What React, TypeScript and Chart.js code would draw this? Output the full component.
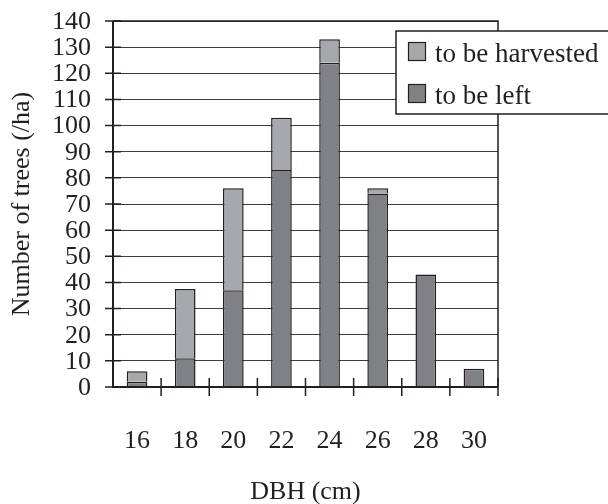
import React, { useEffect, useRef } from "react";
import { Chart, registerables } from "chart.js";

Chart.register(...registerables);

const categories = ["16", "18", "20", "22", "24", "26", "28", "30"];
const toBeLeft = [2, 11, 37, 83, 124, 74, 43, 7];
const toBeHarvested = [4, 26.5, 39, 20, 9, 2, null, null];
const yMax = 140;
const yStep = 10;
const legendLabels = ["to be harvested", "to be left"];

const INK = "#231f20";
const LIGHT = "#a7a8ab";
const DARK = "#808184";
const FONT = "'Liberation Serif', 'Times New Roman', serif";

const framePlugin = {
  id: "frame",
  afterDraw(chart: any) {
    const { ctx, chartArea, scales } = chart;
    const x = scales.x;
    const y = scales.y;
    ctx.save();
    ctx.strokeStyle = INK;
    // frame top & right
    ctx.lineWidth = 1.5;
    ctx.beginPath();
    ctx.moveTo(chartArea.left, chartArea.top);
    ctx.lineTo(chartArea.right, chartArea.top);
    ctx.lineTo(chartArea.right, chartArea.bottom);
    ctx.stroke();
    // axes
    ctx.lineWidth = 2;
    ctx.beginPath();
    ctx.moveTo(chartArea.left, chartArea.top);
    ctx.lineTo(chartArea.left, chartArea.bottom);
    ctx.lineTo(chartArea.right, chartArea.bottom);
    ctx.stroke();
    // y ticks crossing axis
    ctx.lineWidth = 1.5;
    ctx.beginPath();
    for (let v = 0; v <= yMax; v += yStep) {
      const py = y.getPixelForValue(v);
      ctx.moveTo(chartArea.left - 8, py);
      ctx.lineTo(chartArea.left + 8, py);
    }
    // x ticks at category boundaries
    for (let i = 1; i <= categories.length; i++) {
      const px = x.getPixelForValue(i - 0.5);
      ctx.moveTo(px, chartArea.bottom - 9);
      ctx.lineTo(px, chartArea.bottom + 9);
    }
    ctx.stroke();

    // legend box
    const bx = 396, by = 31, bw = 230, bh = 83;
    ctx.fillStyle = "#ffffff";
    ctx.fillRect(bx, by, bw, bh);
    ctx.lineWidth = 1.5;
    ctx.strokeRect(bx, by, bw, bh);
    const fills = [LIGHT, DARK];
    ctx.font = `27px ${FONT}`;
    ctx.textBaseline = "alphabetic";
    ctx.textAlign = "left";
    legendLabels.forEach((label, i) => {
      const sy = 42.5 + i * 42;
      ctx.fillStyle = fills[i];
      ctx.fillRect(408.5, sy, 17, 18);
      ctx.lineWidth = 1.2;
      ctx.strokeRect(408.5, sy, 17, 18);
      ctx.fillStyle = INK;
      ctx.fillText(label, 435, 62 + i * 42);
    });
    ctx.restore();
  },
};

export default function App() {
  const ref = useRef<HTMLCanvasElement | null>(null);

  useEffect(() => {
    if (!ref.current) return;
    const chart = new Chart(ref.current, {
      type: "bar",
      data: {
        labels: categories,
        datasets: [
          {
            label: legendLabels[1],
            data: toBeLeft,
            backgroundColor: DARK,
            borderColor: INK,
            borderWidth: 1.5,
            barPercentage: 0.43,
            categoryPercentage: 1,
          },
          {
            label: legendLabels[0],
            data: toBeHarvested as any,
            backgroundColor: LIGHT,
            borderColor: INK,
            borderWidth: 1.5,
            barPercentage: 0.43,
            categoryPercentage: 1,
          },
        ],
      },
      options: {
        animation: false,
        responsive: false,
        maintainAspectRatio: false,
        layout: { padding: { left: 0, top: 21, right: 110, bottom: 0 } },
        plugins: {
          legend: { display: false },
          tooltip: { enabled: false },
        },
        scales: {
          x: {
            stacked: true,
            grid: { display: false },
            border: { display: false },
            ticks: {
              color: INK,
              font: { family: FONT, size: 26 },
              padding: 31,
              maxRotation: 0,
              autoSkip: false,
            },
            title: {
              display: true,
              text: "DBH (cm)",
              color: INK,
              font: { family: FONT, size: 26, lineHeight: 0.9 },
              padding: { top: 0, bottom: 0 },
            },
            afterFit(scale: any) {
              scale.height = 117;
              scale.paddingLeft = 0;
              scale.paddingRight = 0;
            },
          },
          y: {
            stacked: true,
            min: 0,
            max: yMax,
            grid: {
              drawTicks: false,
              color: "#3c3c3c",
              lineWidth: 1,
            },
            border: { display: false },
            ticks: {
              stepSize: yStep,
              autoSkip: false,
              color: INK,
              font: { family: FONT, size: 26 },
              padding: 22,
              labelOffset: 1,
            },
            title: {
              display: true,
              text: "Number of trees (/ha)",
              color: INK,
              font: { family: FONT, size: 26 },
              padding: { top: 7, bottom: 0 },
            },
            afterFit(scale: any) {
              scale.width = 113;
              scale.paddingTop = 0;
              scale.paddingBottom = 0;
            },
          },
        },
      },
      plugins: [framePlugin],
    });
    return () => chart.destroy();
  }, []);

  return (
    <div style={{ position: "fixed", left: 0, top: 0, width: 608, height: 504, background: "#fff" }}>
      <canvas ref={ref} width={608} height={504} style={{ width: 608, height: 504 }} />
    </div>
  );
}
